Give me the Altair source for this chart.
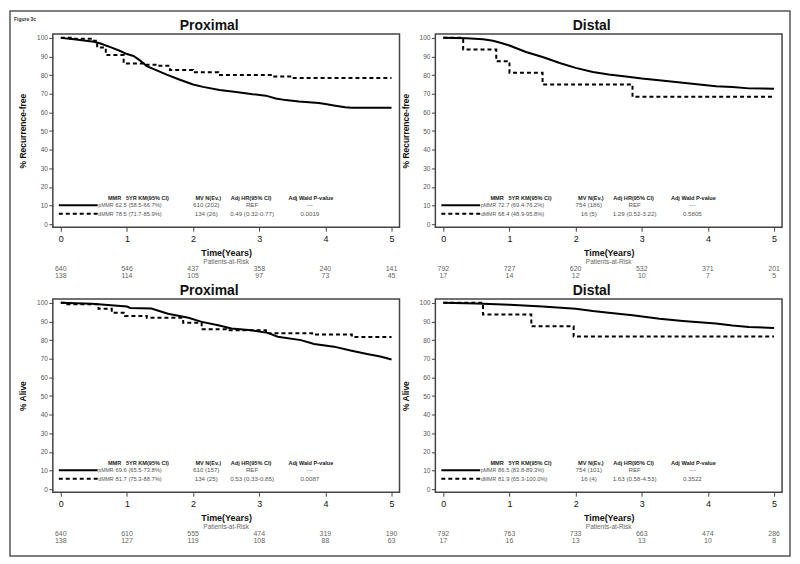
import altair as alt
import pandas as pd

# ----------------------------------------------------------------- data
RISK_YEARS = [0, 1, 2, 3, 4, 5]

# Proximal, recurrence-free
prox_rfs_p_t = [0, 0.2, 0.5, 0.6, 0.75, 0.88, 1.0, 1.1, 1.2, 1.3, 1.45, 1.6, 1.8, 2.0, 2.15, 2.4,
                2.65, 2.9, 3.1, 3.25, 3.4, 3.6, 3.9, 4.0, 4.15, 4.3, 4.4, 5.0]
prox_rfs_p_s = [100, 99.2, 97.9, 97.0, 95.0, 93.2, 91.3, 90.3, 87.8, 84.8, 82.6, 80.3, 77.5, 75.0,
                73.7, 72.0, 71.0, 69.8, 69.0, 67.5, 66.6, 65.8, 65.1, 64.5, 63.6, 62.8, 62.5, 62.5]
prox_rfs_d_t = [0, 0.15, 0.5, 0.55, 0.68, 0.95, 1.25, 1.45, 1.65, 2.0, 2.38, 3.2, 3.5, 5.0]
prox_rfs_d_s = [100, 99.5, 98.5, 94.8, 90.8, 86.3, 85.6, 85.0, 82.8, 81.6, 80.1, 79.3, 78.5, 78.5]

# Distal, recurrence-free
dist_rfs_p_t = [0, 0.35, 0.6, 0.75, 0.85, 1.0, 1.25, 1.5, 1.76, 2.0, 2.26, 2.5, 2.76, 3.0, 3.37,
                3.62, 3.87, 4.12, 4.37, 4.62, 5.0]
dist_rfs_p_s = [100, 99.8, 99.2, 98.4, 97.5, 95.9, 92.4, 89.7, 86.5, 83.9, 81.7, 80.3, 79.3, 78.2,
                76.8, 75.9, 75.0, 74.1, 73.6, 72.9, 72.7]
dist_rfs_d_t = [0, 0.3, 0.8, 1.0, 1.5, 2.86, 5.0]
dist_rfs_d_s = [100, 93.75, 87.5, 81.25, 75.0, 68.4, 68.4]

# Proximal, overall survival
prox_os_p_t = [0, 0.47, 1.0, 1.05, 1.37, 1.62, 1.93, 2.13, 2.38, 2.58, 2.88, 3.13, 3.28, 3.63,
               3.83, 4.13, 4.38, 4.63, 4.83, 5.0]
prox_os_p_s = [100, 99.5, 98.0, 97.3, 97.0, 94.2, 92.0, 89.8, 88.0, 86.2, 85.3, 83.9, 81.8, 80.0,
               77.9, 76.5, 74.4, 72.6, 71.2, 69.6]
prox_os_d_t = [0, 0.1, 0.57, 0.77, 0.97, 1.3, 1.85, 2.13, 2.5, 3.1, 3.8, 4.4, 5.0]
prox_os_d_s = [100, 99.3, 96.8, 94.7, 93.0, 92.0, 89.3, 85.8, 85.3, 83.7, 83.0, 81.7, 81.7]

# Distal, overall survival
dist_os_p_t = [0, 0.5, 1.0, 1.5, 2.0, 2.26, 2.5, 2.86, 3.27, 3.62, 3.87, 4.12, 4.37, 4.62, 5.0]
dist_os_p_s = [100, 99.6, 99.0, 98.0, 96.8, 95.6, 94.7, 93.3, 91.5, 90.3, 89.6, 88.9, 87.8, 87.1, 86.5]
dist_os_d_t = [0, 0.6, 1.33, 1.97, 5.0]
dist_os_d_s = [100, 93.75, 87.5, 81.9, 81.9]

# patients at risk
prox_rfs_risk_p = [640, 546, 437, 358, 240, 141]
prox_rfs_risk_d = [138, 114, 105, 97, 73, 45]
dist_rfs_risk_p = [792, 727, 620, 532, 371, 201]
dist_rfs_risk_d = [17, 14, 12, 10, 7, 5]
prox_os_risk_p = [640, 610, 555, 474, 319, 190]
prox_os_risk_d = [138, 127, 119, 108, 88, 63]
dist_os_risk_p = [792, 763, 733, 663, 474, 286]
dist_os_risk_d = [17, 16, 13, 13, 10, 8]

# statistics tables
TABLE_HEADERS = ["MMR", "5YR KM(95% CI)", "MV N(Ev.)", "Adj HR(95% CI)", "Adj Wald P-value"]
prox_rfs_stats_p = ["pMMR", "62.5 (58.5-66.7%)", "610 (202)", "REF", "---"]
prox_rfs_stats_d = ["dMMR", "78.5 (71.7-85.9%)", "134 (26)", "0.49 (0.32-0.77)", "0.0019"]
dist_rfs_stats_p = ["pMMR", "72.7 (69.4-76.2%)", "754 (186)", "REF", "---"]
dist_rfs_stats_d = ["dMMR", "68.4 (48.9-95.8%)", "16 (5)", "1.29 (0.52-3.22)", "0.5805"]
prox_os_stats_p = ["pMMR", "69.6 (65.5-73.8%)", "610 (157)", "REF", "---"]
prox_os_stats_d = ["dMMR", "81.7 (75.3-88.7%)", "134 (25)", "0.53 (0.33-0.85)", "0.0087"]
dist_os_stats_p = ["pMMR", "86.5 (83.8-89.3%)", "754 (101)", "REF", "---"]
dist_os_stats_d = ["dMMR", "81.9 (65.3-100.0%)", "16 (4)", "1.63 (0.58-4.53)", "0.3522"]

# ----------------------------------------------------------------- layout
W, H = 348, 194
XDOM = [-0.1205, 5.1205]
YDOM = [-1.6, 102.1]
PX_PER_YR = W / (XDOM[1] - XDOM[0])
FONT = "Liberation Sans"

HDR_PX = [62, 95, 156, 199, 259]
HDR_Y, ROW1_Y, ROW2_Y = 165, 172, 180.5
LBL_RIGHT_PX, VAL_LEFT_PX = 61, 63
ROW_CENTER_PX = [154, 200, 258]

XS = alt.Scale(domain=XDOM, nice=False, zero=False)
YS = alt.Scale(domain=YDOM, nice=False, zero=False)


def px_to_x(px):
    return XDOM[0] + px / PX_PER_YR


ONE = pd.DataFrame({"k": [0]})


def panel(title, ytitle, p_t, p_s, d_t, d_s, risk_p, risk_d, stats_p, stats_d, first=False):
    xaxis = alt.Axis(values=RISK_YEARS, title="Time(Years)", grid=False, domain=False,
                     tickSize=4, tickColor="#444", labelFontSize=9, labelColor="#111",
                     labelFont=FONT, labelPadding=3, titleFont=FONT, titleFontSize=9,
                     titleFontWeight="bold", titleColor="#111", titlePadding=5.5)
    yaxis = alt.Axis(values=list(range(0, 101, 10)), title=ytitle, grid=False, domain=False,
                     tickSize=4, tickColor="#444", labelFontSize=6.5, labelColor="#555",
                     labelFont=FONT, labelPadding=1.5, titleFont=FONT, titleFontSize=8.5,
                     titleFontWeight="bold", titleColor="#111", titlePadding=9)

    def X(field="t:Q"):
        return alt.X(field, scale=XS, axis=xaxis)

    def Y(field="s:Q"):
        return alt.Y(field, scale=YS, axis=yaxis)

    solid = alt.Chart(pd.DataFrame({"t": p_t, "s": p_s})).mark_line(
        color="black", strokeWidth=2, clip=True
    ).encode(x=X(), y=Y())

    dashed = alt.Chart(pd.DataFrame({"t": d_t, "s": d_s})).mark_line(
        color="black", strokeWidth=2, strokeDash=[4, 3], interpolate="step-after", clip=True
    ).encode(x=X(), y=Y())

    hdr = alt.Chart(pd.DataFrame({"t": [px_to_x(p) for p in HDR_PX], "txt": TABLE_HEADERS})).mark_text(
        font=FONT, fontSize=5.6, fontWeight="bold", color="#222", align="center", baseline="middle"
    ).encode(x=X(), y=alt.value(HDR_Y), text="txt:N")

    def row(vals, yy):
        lbl = alt.Chart(pd.DataFrame({"t": [px_to_x(LBL_RIGHT_PX)], "txt": vals[:1]})).mark_text(
            font=FONT, fontSize=5.2, color="#555", align="right", baseline="middle"
        ).encode(x=X(), y=alt.value(yy), text="txt:N")
        km = alt.Chart(pd.DataFrame({"t": [px_to_x(VAL_LEFT_PX)], "txt": vals[1:2]})).mark_text(
            font=FONT, fontSize=5.8, color="#555", align="left", baseline="middle"
        ).encode(x=X(), y=alt.value(yy), text="txt:N")
        rest = alt.Chart(pd.DataFrame({"t": [px_to_x(p) for p in ROW_CENTER_PX], "txt": vals[2:]})).mark_text(
            font=FONT, fontSize=6.2, color="#555", align="center", baseline="middle"
        ).encode(x=X(), y=alt.value(yy), text="txt:N")
        return [lbl, km, rest]

    leg_p = alt.Chart(ONE).mark_rule(color="black", strokeWidth=2).encode(
        x=alt.value(6), x2=alt.value(45), y=alt.value(ROW1_Y))
    leg_d = alt.Chart(ONE).mark_rule(color="black", strokeWidth=2, strokeDash=[4, 3]).encode(
        x=alt.value(6), x2=alt.value(45), y=alt.value(ROW2_Y))

    def risk(vals, yy):
        return alt.Chart(pd.DataFrame({"t": RISK_YEARS, "n": vals})).mark_text(
            font=FONT, fontSize=7, color="#666", align="center", baseline="middle"
        ).encode(x=X(), y=alt.value(yy), text="n:Q")

    par = alt.Chart(ONE).mark_text(font=FONT, fontSize=6.5, color="#666", align="center",
                                   baseline="middle").encode(
        x=alt.value(W / 2), y=alt.value(H + 34.8), text=alt.value("Patients-at-Risk"))

    ttl = alt.Chart(ONE).mark_text(font=FONT, fontSize=14, fontWeight="bold", color="#111",
                                   align="center", baseline="middle").encode(
        x=alt.value(157), y=alt.value(-8), text=alt.value(title))

    layers = [solid, dashed, hdr] + row(stats_p, ROW1_Y) + row(stats_d, ROW2_Y) + [
        leg_p, leg_d, risk(risk_p, H + 42), risk(risk_d, H + 49), par, ttl]

    if first:
        border = alt.Chart(ONE).mark_rect(fillOpacity=0, stroke="#555", strokeWidth=1.5).encode(
            x=alt.value(-43), x2=alt.value(740), y=alt.value(-23), y2=alt.value(524))
        fig = alt.Chart(ONE).mark_text(font=FONT, fontSize=5, fontWeight="bold", color="#333",
                                       align="left", baseline="middle").encode(
            x=alt.value(-39), y=alt.value(-15), text=alt.value("Figure 3c"))
        layers = [border, fig] + layers

    return alt.layer(*layers).properties(width=W, height=H)


tl = panel("Proximal", "% Recurrence-free", prox_rfs_p_t, prox_rfs_p_s, prox_rfs_d_t, prox_rfs_d_s,
           prox_rfs_risk_p, prox_rfs_risk_d, prox_rfs_stats_p, prox_rfs_stats_d, first=True)
tr = panel("Distal", "% Recurrence-free", dist_rfs_p_t, dist_rfs_p_s, dist_rfs_d_t, dist_rfs_d_s,
           dist_rfs_risk_p, dist_rfs_risk_d, dist_rfs_stats_p, dist_rfs_stats_d)
bl = panel("Proximal", "% Alive", prox_os_p_t, prox_os_p_s, prox_os_d_t, prox_os_d_s,
           prox_os_risk_p, prox_os_risk_d, prox_os_stats_p, prox_os_stats_d)
br = panel("Distal", "% Alive", dist_os_p_t, dist_os_p_s, dist_os_d_t, dist_os_d_s,
           dist_os_risk_p, dist_os_risk_d, dist_os_stats_p, dist_os_stats_d)

chart = alt.concat(tl, tr, bl, br, columns=2, spacing={"row": 72, "column": 36}, bounds="flush").properties(
    padding=0, background="white"
).configure_view(stroke="#444", strokeWidth=1.5)

chart.save("out.html", embed_options={"renderer": "svg", "actions": False})
